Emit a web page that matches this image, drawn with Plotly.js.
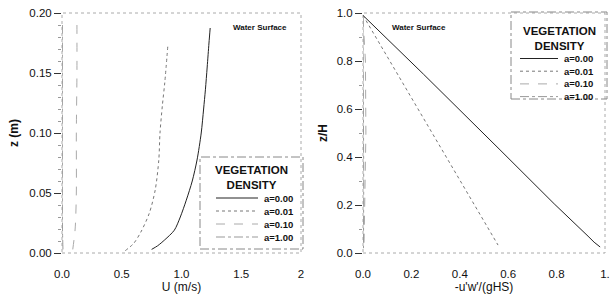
<!DOCTYPE html>
<html><head><meta charset="utf-8">
<script src="https://cdn.plot.ly/plotly-3.0.1.min.js"></script>
<style>html,body{margin:0;padding:0;background:#fff;}#chart{width:611px;height:304px;}</style>
</head><body><div id="chart"></div>
<script>
// ---- data ----
const seriesNames = ["a=0.00", "a=0.01", "a=0.10", "a=1.00"];
// left panel: velocity profiles U (m/s) vs z (m)
const uA000 = [0.75, 0.80, 0.86, 0.94, 0.99, 1.04, 1.09, 1.13, 1.165, 1.185, 1.20, 1.215, 1.23, 1.24];
const zA000 = [0.003, 0.006, 0.011, 0.019, 0.03, 0.044, 0.06, 0.0775, 0.10, 0.12, 0.136, 0.155, 0.175, 0.1875];
const uA001 = [0.53, 0.60, 0.66, 0.73, 0.78, 0.81, 0.82, 0.84, 0.86, 0.885];
const zA001 = [0.002, 0.008, 0.0175, 0.033, 0.0525, 0.0775, 0.10, 0.123, 0.142, 0.172];
const uA010 = [0.09, 0.11, 0.12, 0.12, 0.125, 0.125];
const zA010 = [0.003, 0.02, 0.05, 0.10, 0.15, 0.19];
const uA100 = [0.008, 0.004, 0.003, 0.003, 0.003];
const zA100 = [0.003, 0.02, 0.05, 0.10, 0.19];
// right panel: Reynolds stress -u'w'/(gHS) vs z/H
const sA000 = [0.0, 0.25, 0.566, 0.79, 0.93, 0.955, 0.98];
const hA000 = [0.99, 0.745, 0.43, 0.205, 0.07, 0.045, 0.025];
const sA001 = [0.0, 0.205, 0.33, 0.558];
const hA001 = [0.99, 0.6375, 0.42, 0.033];
const sA010 = [0.0, 0.01, 0.012, 0.008, 0.004];
const hA010 = [0.98, 0.80, 0.50, 0.20, 0.02];
const sA100 = [0.0, 0.003, 0.003, 0.002];
const hA100 = [0.98, 0.60, 0.30, 0.02];
const leftTicksY = [0, 0.05, 0.10, 0.15, 0.20];
const leftTickTextY = ["0.00", "0.05", "0.10", "0.15", "0.20"];
const leftTicksX = [0, 0.5, 1.0, 1.5, 2];
const leftTickTextX = ["0.0", "0.5", "1.0", "1.5", "2"];
const rightTicksY = [0, 0.2, 0.4, 0.6, 0.8, 1.0];
const rightTickTextY = ["0.0", "0.2", "0.4", "0.6", "0.8", "1.0"];
const rightTicksX = [0, 0.2, 0.4, 0.6, 0.8, 1.0];
const rightTickTextX = ["0.0", "0.2", "0.4", "0.6", "0.8", "1."];

// ---- styles ----
const lineStyles = [
  {color: "#222", dash: "solid", width: 1},
  {color: "#777", dash: "dot", width: 1},
  {color: "#aaa", dash: "dash", width: 1},
  {color: "#999", dash: "dashdot", width: 1}
];
const F = "Liberation Sans, Arial, sans-serif";

const leftX = [uA000, uA001, uA010, uA100], leftY = [zA000, zA001, zA010, zA100];
const rightX = [sA000, sA001, sA010, sA100], rightY = [hA000, hA001, hA010, hA100];
const traces = [];
seriesNames.forEach((n, i) => {
  traces.push({x: leftX[i], y: leftY[i], name: n, mode: "lines", line: Object.assign({shape: "spline", smoothing: 0.8}, lineStyles[i]), xaxis: "x", yaxis: "y", showlegend: false});
});
seriesNames.forEach((n, i) => {
  traces.push({x: rightX[i], y: rightY[i], name: n, mode: "lines", line: Object.assign({shape: "linear"}, lineStyles[i]), xaxis: "x2", yaxis: "y2", showlegend: false});
});

const W = 611, H = 304;
const px = v => v / W, py = v => 1 - v / H;

const shapes = [];
const annotations = [];
// frames (dotted)
[["x", "y"], ["x2", "y2"]].forEach(([xa, ya]) => {
  shapes.push({type: "rect", xref: xa + " domain", yref: ya + " domain", x0: 0, x1: 1, y0: 0, y1: 1, line: {color: "#aaa", width: 1, dash: "dot"}, layer: "below"});
});
// custom legends
function legend(x0, x1, y0, y1, titleY, firstY, step, textX, sampleX0, sampleX1) {
  shapes.push({type: "rect", xref: "paper", yref: "paper", x0: px(x0), x1: px(x1), y0: py(y1), y1: py(y0), line: {color: "#888", width: 1, dash: "dashdot"}, fillcolor: "rgba(255,255,255,0)"});
  annotations.push({xref: "paper", yref: "paper", x: px((x0 + x1) / 2), y: py(titleY), text: "<b>VEGETATION<br>DENSITY</b>", showarrow: false, font: {family: F, size: 11.5, color: "#111"}, xanchor: "center", yanchor: "middle", align: "center"});
  seriesNames.forEach((n, i) => {
    const yy = firstY + i * step;
    annotations.push({xref: "paper", yref: "paper", x: px(textX), y: py(yy), text: "<b>" + n + "</b>", showarrow: false, font: {family: F, size: 9.5, color: "#111"}, xanchor: "left", yanchor: "middle"});
    shapes.push({type: "line", xref: "paper", yref: "paper", x0: px(sampleX0), x1: px(sampleX1), y0: py(yy), y1: py(yy), line: lineStyles[i]});
  });
}
legend(200, 303, 157, 249, 177, 198, 13, 262, 216, 258);
legend(511, 607, 12, 99, 39, 58.5, 12.7, 562, 520, 558);

annotations.push({xref: "paper", yref: "paper", x: px(260), y: py(21), text: "<b>Water Surface</b>", showarrow: false, font: {family: F, size: 8, color: "#111"}});
annotations.push({xref: "paper", yref: "paper", x: px(448), y: py(21), text: "<b>Water Surface</b>", showarrow: false, font: {family: F, size: 8, color: "#111"}});

const tickFont = {family: F, size: 11.5, color: "#111"};
const titleFont = {family: F, size: 12, color: "#111"};
const commonY = {showgrid: false, zeroline: false, showline: false, ticks: "outside", ticklen: 7, tickcolor: "#333", tickwidth: 1, tickfont: tickFont, automargin: false};
const commonX = {showgrid: false, zeroline: false, showline: false, ticks: "outside", ticklen: 10, tickcolor: "rgba(0,0,0,0)", tickfont: tickFont, automargin: false};

const layout = {
  width: W, height: H,
  margin: {l: 0, r: 0, t: 0, b: 0},
  paper_bgcolor: "#fff", plot_bgcolor: "#fff",
  showlegend: false,
  xaxis: Object.assign({}, commonX, {domain: [px(62), px(301)], range: [0, 2], tickvals: leftTicksX, ticktext: leftTickTextX, anchor: "y", title: {text: "U (m/s)", font: titleFont, standoff: 0}}),
  yaxis: Object.assign({}, commonY, {domain: [py(253), py(13)], range: [0, 0.2], tickvals: leftTicksY, ticktext: leftTickTextY, anchor: "x", title: {text: "<b>z (m)</b>", font: titleFont, standoff: 8}, minor: {dtick: 0.01, ticks: "outside", ticklen: 3, tickcolor: "#999"}}),
  xaxis2: Object.assign({}, commonX, {domain: [px(363), px(605)], range: [0, 1], tickvals: rightTicksX, ticktext: rightTickTextX, anchor: "y2", title: {text: "-u'w'/(gHS)", font: titleFont, standoff: 0}}),
  yaxis2: Object.assign({}, commonY, {domain: [py(253), py(13)], range: [0, 1], tickvals: rightTicksY, ticktext: rightTickTextY, anchor: "x2", title: {text: "<b>z/H</b>", font: titleFont, standoff: 6}, minor: {dtick: 0.1, ticks: "outside", ticklen: 3, tickcolor: "#999"}}),
  shapes: shapes,
  annotations: annotations
};
Plotly.newPlot("chart", traces, layout, {staticPlot: true, displayModeBar: false});
</script>
</body></html>
